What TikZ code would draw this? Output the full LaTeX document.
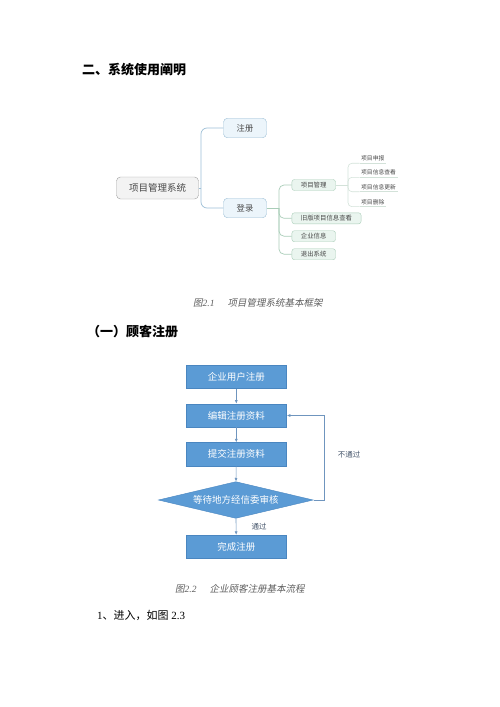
\documentclass[tikz,border=0pt]{standalone}
\usepackage{fontspec}
\setmainfont{Liberation Serif}
\newfontfamily\cjk{Noto Sans CJK SC}
\newfontfamily\cjkslant[FakeSlant=0.2]{Noto Sans CJK SC}
\usetikzlibrary{arrows.meta,shapes.geometric,positioning}

\definecolor{flowblue}{HTML}{5B9BD5}
\definecolor{flowrim}{HTML}{4A86C0}
\definecolor{flowline}{HTML}{6F95BE}
\definecolor{rootfill}{HTML}{F3F3F3}
\definecolor{rootrim}{HTML}{9E9E9E}
\definecolor{topfill}{HTML}{ECF5FB}
\definecolor{toprim}{HTML}{9DBFD6}
\definecolor{subfill}{HTML}{EAF5EF}
\definecolor{subrim}{HTML}{A9CDB8}
\definecolor{leafline}{HTML}{D3E2D9}
\definecolor{mmtext}{HTML}{474747}
\definecolor{captgray}{HTML}{5E5E5E}
\definecolor{notetext}{HTML}{44546A}

\begin{document}
\begin{tikzpicture}[
    x=1bp, y=-1bp,
    head/.style={
      anchor=west,
      inner sep=0pt,
      font=\cjk\bfseries\fontsize{13bp}{15bp}\selectfont
    },
    capt/.style={
      anchor=west,
      inner sep=0pt,
      text=captgray,
      font=\fontsize{9.5bp}{11bp}\selectfont
    },
    rootbox/.style={
      rectangle, rounded corners=4bp,
      draw=rootrim, fill=rootfill, text=mmtext,
      minimum width=82bp, minimum height=22bp, inner sep=0pt,
      font=\cjk\fontsize{9.5bp}{11bp}\selectfont
    },
    topbox/.style={
      rectangle, rounded corners=4bp,
      draw=toprim, fill=topfill, text=mmtext,
      minimum width=43bp, minimum height=19.5bp, inner sep=0pt,
      font=\cjk\fontsize{8.3bp}{10bp}\selectfont
    },
    subbox/.style={
      rectangle, rounded corners=2.5bp,
      draw=subrim, fill=subfill, text=mmtext,
      minimum height=11bp, inner xsep=9bp, inner ysep=0pt,
      font=\cjk\fontsize{6.4bp}{8bp}\selectfont
    },
    leaftxt/.style={
      anchor=west, inner xsep=1.5pt, inner ysep=1.8bp, text=mmtext,
      font=\cjk\fontsize{5.8bp}{7bp}\selectfont
    },
    mmedge/.style={draw=toprim, line width=0.7bp, rounded corners=6bp},
    subedge/.style={draw=subrim, line width=0.7bp, rounded corners=5bp},
    leafedge/.style={draw=leafline, line width=0.6bp, rounded corners=4bp},
    flowbox/.style={
      rectangle, draw=flowrim, fill=flowblue, text=white,
      minimum width=100.7bp, minimum height=23.3bp, inner sep=0pt,
      font=\cjk\fontsize{9.5bp}{11bp}\selectfont
    },
    decide/.style={
      diamond, aspect=4.2, draw=flowrim, fill=flowblue, text=white,
      minimum width=155bp, minimum height=36.7bp, inner sep=0pt,
      font=\cjk\fontsize{9.5bp}{11bp}\selectfont
    },
    flowarr/.style={draw=flowline, line width=0.6bp, -{Latex[length=3.5bp,width=3bp]}},
    note/.style={text=notetext, inner sep=0pt, font=\cjk\fontsize{7.5bp}{9bp}\selectfont}
  ]

  % page frame
  \useasboundingbox (0,0) rectangle (500,707);

  % Section headings
  \node[head] (h1) at (82,70) {二、系统使用阐明};
  \node[head] (h2) at (87,332) {（一）顾客注册};

  % Mind map: system framework
  \node[rootbox] (root) at (157.5,188) {项目管理系统};
  \node[topbox] (zhuce) at (245,128) {注册};
  \node[topbox] (denglu) at (245,208) {登录};

  \node[subbox, anchor=west] (xmgl) at (291.7,185) {项目管理};
  \node[subbox, anchor=west] (jiuban) at (291.7,218.3) {旧版项目信息查看};
  \node[subbox, anchor=west] (qyxx) at (291.7,236.2) {企业信息};
  \node[subbox, anchor=west] (tcxt) at (291.7,254.2) {退出系统};

  \node[leaftxt] (sb) at (359.5,158.6) {项目申报};
  \node[leaftxt] (ck) at (359.5,172.6) {项目信息查看};
  \node[leaftxt] (gx) at (359.5,187.0) {项目信息更新};
  \node[leaftxt] (sc) at (359.5,202.0) {项目删除};

  \coordinate (rj) at (201,188);
  \coordinate (dj) at (279,208);
  \coordinate (lj) at (348,185);

  \draw[mmedge] (root.east) -- (rj);
  \draw[mmedge] (rj) |- (zhuce.west);
  \draw[mmedge] (rj) |- (denglu.west);

  \draw[subedge] (denglu.east) -- (dj);
  \foreach \kid in {xmgl,jiuban,qyxx,tcxt}
    \draw[subedge] (dj) |- (\kid.west);

  \draw[leafedge] (xmgl.east) -- (lj);
  \foreach \leaf in {sb,ck,gx,sc} {
    \draw[leafedge] (lj) |- (\leaf.south west);
    \draw[leafedge] (\leaf.south west) -- (\leaf.south east);
  }

  \node[capt] (cap1) at (193,302.5) {{\cjkslant 图}\textit{2.1}\hspace{13bp}{\cjkslant 项目管理系统基本框架}};

  % Flow chart: customer registration
  \node[flowbox] (qyzc) at (236.3,376.7) {企业用户注册};
  \node[flowbox] (bianji) at (236.3,415.5) {编辑注册资料};
  \node[flowbox] (tijiao) at (236.3,454.2) {提交注册资料};
  \node[decide] (shenhe) at (235.8,500) {等待地方经信委审核};
  \node[flowbox] (wancheng) at (236.3,546.7) {完成注册};

  \draw[flowarr] (qyzc) -- (bianji);
  \draw[flowarr] (bianji) -- (tijiao);
  \draw[flowarr] (tijiao) -- (shenhe);
  \draw[flowarr] (shenhe) -- (wancheng);
  \draw[flowarr] (shenhe.east) -- ++(11,0) |- (bianji.east);

  \node[note] (butg) at (349,454.5) {不通过};
  \node[note] (tg) at (259,527) {通过};

  \node[capt] (cap2) at (175,589) {{\cjkslant 图}\textit{2.2}\hspace{13bp}{\cjkslant 企业顾客注册基本流程}};

  % Body text
  \node[anchor=west, inner sep=0pt, font=\fontsize{11bp}{13bp}\selectfont] (jinru) at (97,615)
    {1{\cjk 、进入，如图} 2.3};

\end{tikzpicture}
\end{document}
